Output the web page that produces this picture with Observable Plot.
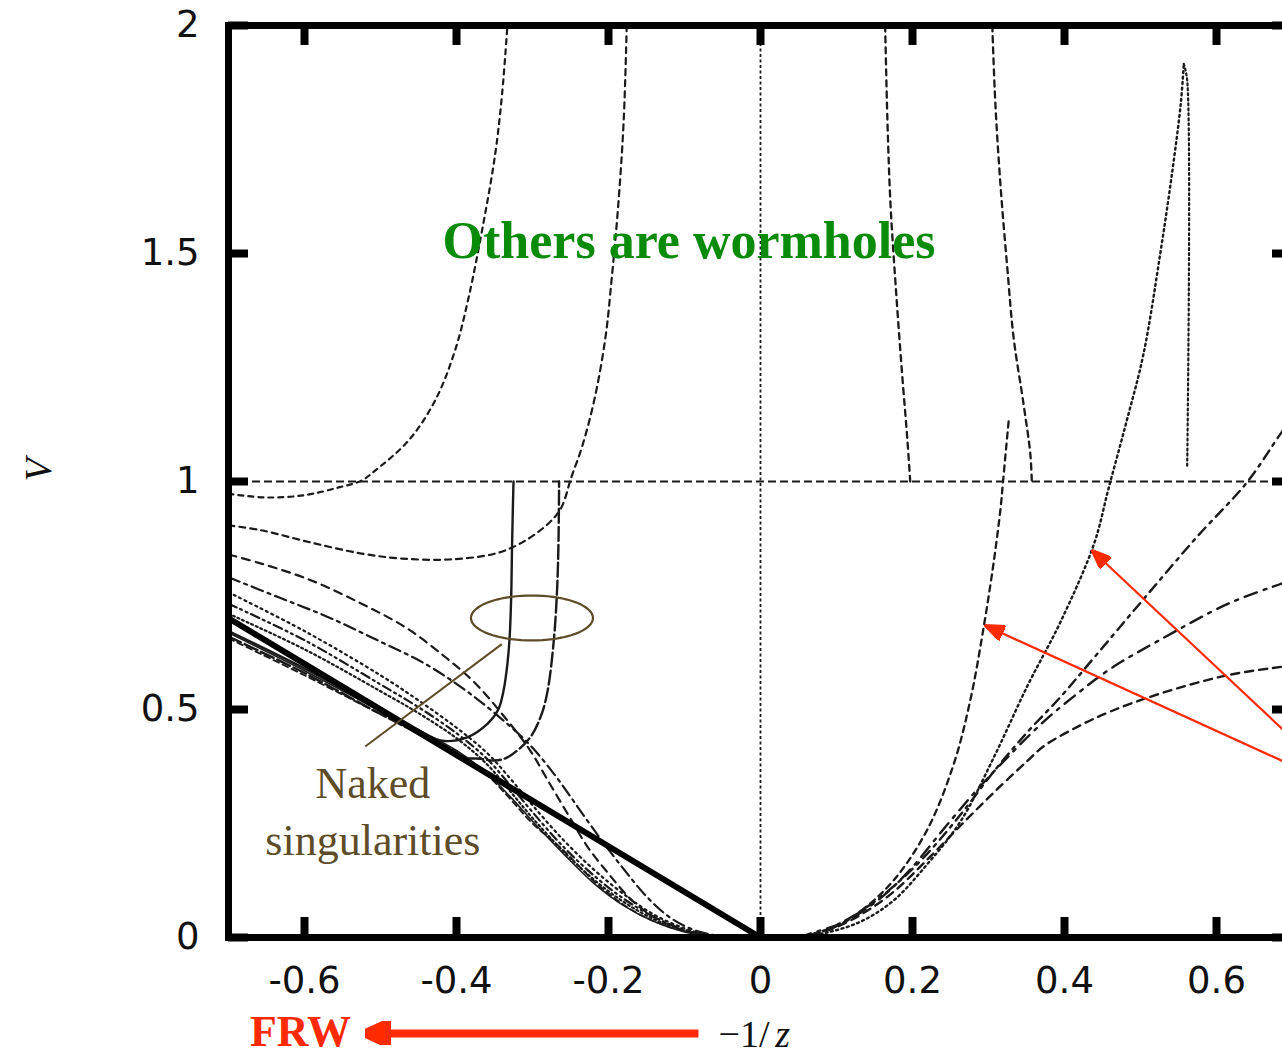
<!DOCTYPE html>
<html>
<head>
<meta charset="utf-8">
<script src="https://cdn.jsdelivr.net/npm/d3@7"></script>
<script src="https://cdn.jsdelivr.net/npm/@observablehq/plot@0.6"></script>
<style>
html, body { margin: 0; padding: 0; background: #fff; overflow: hidden; width: 1282px; height: 1057px; }
#chart svg { display: block; max-width: none !important; width: 1310px !important; height: 1057px !important; }
</style>
</head>
<body>
<div id="chart"></div>
<script>
// ---------- data (x = -1/z, y = V) ----------
const xTicks = [-0.6, -0.4, -0.2, 0, 0.2, 0.4, 0.6];
const yTicks = [0, 0.5, 1, 1.5, 2];

const frwLine = [[-0.7, 0.7], [0, 0]];

// wormhole curves, left
const wormLeft1 = [[-0.7,0.973],[-0.65,0.965],[-0.6,0.970],[-0.555,0.987],[-0.525,1.002],[-0.507,1.024],[-0.463,1.09],[-0.428,1.178],[-0.402,1.287],[-0.384,1.404],[-0.364,1.572],[-0.349,1.719],[-0.340,1.85],[-0.333,2.0]];
const wormLeft2 = [[-0.7,0.904],[-0.657,0.893],[-0.591,0.866],[-0.525,0.842],[-0.472,0.831],[-0.41,0.829],[-0.349,0.842],[-0.314,0.866],[-0.279,0.908],[-0.262,0.943],[-0.249,1.009],[-0.235,1.075],[-0.218,1.184],[-0.204,1.316],[-0.196,1.441],[-0.187,1.61],[-0.180,1.792],[-0.176,2.0]];

// bundle of curves on the left that fall to zero
const leftC = [[-0.7,0.84],[-0.657,0.82],[-0.591,0.783],[-0.525,0.732],[-0.467,0.68],[-0.414,0.614],[-0.375,0.557],[-0.336,0.482],[-0.303,0.41],[-0.28,0.345],[-0.254,0.272],[-0.228,0.2],[-0.2,0.14],[-0.167,0.078],[-0.135,0.04],[-0.1,0.015],[-0.07,0.004],[-0.04,0]];
const leftD = [[-0.7,0.79],[-0.634,0.746],[-0.568,0.702],[-0.503,0.651],[-0.441,0.6],[-0.393,0.548],[-0.349,0.491],[-0.305,0.425],[-0.27,0.355],[-0.24,0.285],[-0.21,0.215],[-0.18,0.15],[-0.15,0.09],[-0.12,0.045],[-0.09,0.018],[-0.06,0.005],[-0.03,0]];
const leftE = [[-0.7,0.757],[-0.6,0.672],[-0.5,0.575],[-0.45,0.52],[-0.4,0.46],[-0.36,0.405],[-0.33,0.35],[-0.3,0.29],[-0.26,0.215],[-0.22,0.15],[-0.18,0.095],[-0.14,0.05],[-0.1,0.02],[-0.07,0.006],[-0.04,0]];
const leftF = [[-0.7,0.732],[-0.6,0.652],[-0.5,0.555],[-0.45,0.505],[-0.4,0.448],[-0.36,0.392],[-0.33,0.335],[-0.3,0.275],[-0.26,0.2],[-0.22,0.137],[-0.18,0.085],[-0.14,0.045],[-0.1,0.017],[-0.07,0.005],[-0.045,0]];
const leftG = [[-0.7,0.71],[-0.6,0.632],[-0.5,0.54],[-0.45,0.492],[-0.4,0.437],[-0.36,0.38],[-0.33,0.322],[-0.3,0.262],[-0.26,0.19],[-0.22,0.128],[-0.18,0.078],[-0.14,0.04],[-0.1,0.015],[-0.07,0.004],[-0.05,0]];
const leftH = [[-0.7,0.668],[-0.6,0.585],[-0.5,0.497],[-0.45,0.455],[-0.4,0.41],[-0.36,0.36],[-0.33,0.31],[-0.3,0.255],[-0.26,0.185],[-0.22,0.12],[-0.18,0.07],[-0.14,0.035],[-0.1,0.012],[-0.07,0.003],[-0.05,0]];
const leftI = [[-0.7,0.656],[-0.6,0.575],[-0.5,0.49],[-0.45,0.45],[-0.4,0.406],[-0.36,0.357],[-0.33,0.305],[-0.3,0.25],[-0.263,0.197],[-0.21,0.11],[-0.162,0.053],[-0.114,0.02],[-0.075,0.006],[-0.05,0]];

// naked singularity curves
const nakedSolid = [[-0.7,0.672],[-0.6,0.59],[-0.5,0.5],[-0.45,0.455],[-0.421,0.432],[-0.386,0.439],[-0.359,0.469],[-0.345,0.5],[-0.338,0.542],[-0.333,0.6],[-0.330,0.66],[-0.328,0.75],[-0.327,0.85],[-0.326,0.93],[-0.325,1.0]];
const nakedDashed = [[-0.7,0.66],[-0.6,0.58],[-0.5,0.49],[-0.43,0.43],[-0.39,0.395],[-0.368,0.392],[-0.351,0.388],[-0.333,0.395],[-0.303,0.439],[-0.288,0.49],[-0.28,0.542],[-0.272,0.651],[-0.268,0.75],[-0.266,0.85],[-0.265,1.0]];

// right side curves
const rightA = [[0.04,0],[0.07,0.008],[0.1,0.025],[0.132,0.058],[0.175,0.125],[0.219,0.235],[0.254,0.379],[0.276,0.52],[0.294,0.684],[0.307,0.825],[0.316,0.943],[0.319,0.998],[0.323,1.07],[0.327,1.141]];
const rightB = [[0.05,0],[0.088,0.011],[0.132,0.035],[0.175,0.081],[0.219,0.16],[0.263,0.254],[0.307,0.395],[0.351,0.551],[0.395,0.693],[0.439,0.864],[0.458,0.985],[0.482,1.134],[0.504,1.28],[0.526,1.5],[0.542,1.682],[0.553,1.829],[0.557,1.916]];
const rightBdrop = [[0.557,1.916],[0.5614,1.88],[0.5614,1.03]];
const rightC = [[0.05,0],[0.088,0.018],[0.132,0.058],[0.175,0.112],[0.219,0.183],[0.263,0.269],[0.307,0.364],[0.351,0.45],[0.395,0.528],[0.439,0.614],[0.504,0.742],[0.574,0.878],[0.64,0.998],[0.684,1.104],[0.7,1.14]];
const rightD = [[0.05,0],[0.066,0.009],[0.11,0.034],[0.154,0.081],[0.197,0.149],[0.241,0.238],[0.285,0.324],[0.329,0.402],[0.373,0.474],[0.417,0.535],[0.461,0.59],[0.526,0.653],[0.614,0.731],[0.687,0.777],[0.7,0.785]];
const rightE = [[0.05,0],[0.088,0.015],[0.132,0.05],[0.175,0.1],[0.219,0.17],[0.263,0.245],[0.307,0.318],[0.351,0.387],[0.373,0.42],[0.417,0.462],[0.461,0.496],[0.526,0.535],[0.614,0.575],[0.687,0.594],[0.7,0.597]];
const wormRight1 = [[0.164,2.0],[0.167,1.792],[0.171,1.61],[0.178,1.426],[0.186,1.243],[0.193,1.097],[0.197,1.0]];
const wormRight2 = [[0.305,2.0],[0.309,1.829],[0.316,1.645],[0.325,1.463],[0.333,1.316],[0.346,1.171],[0.355,1.061],[0.357,1.0]];

// annotations (data coordinates)
const othersLabel = [{x: -0.094, y: 1.491, text: "Others are wormholes"}];
const nakedLabel = [{x: -0.51, y: 0.307, text: "Naked"}, {x: -0.51, y: 0.18, text: "singularities"}];
const nakedEllipse = {cx: -0.3007, cy: 0.7007, rx: 0.0803, ry: 0.0493};
const nakedPointer = [{x1: -0.3404, y1: 0.6434, x2: -0.5201, y2: 0.4189}];
const redPointers = [{x1: 0.75, y1: 0.358, x2: 0.4364, y2: 0.8487}, {x1: 0.75, y1: 0.339, x2: 0.296, y2: 0.684}];
const frwArrow = [{x1: -0.0816, y1: -0.2105, x2: -0.5197, y2: -0.2105}];
const frwLabel = [{x: -0.6053, y: -0.2390, text: "FRW"}];
const xLabelParts = [{x: -0.0553, y: -0.2410, text: "\u22121/"}];
const xLabelZ = [{x: 0.0195, y: -0.2410, text: "z"}];

// ---------- styles ----------
const ink = "#1a1a1a";
const curveStyles = [
  [wormLeft1, "5,5", 2.2],
  [wormLeft2, "6,5", 2.2],
  [leftC, "8,6", 2.2],
  [leftD, "12,5,3,5", 2.2],
  [leftE, "2,4", 2.2],
  [leftF, "9,4,2,4,2,4", 2.2],
  [leftG, "2,3", 2.2],
  [leftH, null, 1.6],
  [leftI, "6,4", 1.8],
  [nakedSolid, null, 2.4],
  [nakedDashed, "14,4", 2.4],
  [rightA, "6,5", 2.3],
  [rightB, "2,3.5", 2.4],
  [rightBdrop, "2,3", 2.2],
  [rightC, "10,6,3,6", 2.4],
  [rightD, "13,7,3,7", 2.4],
  [rightE, "8,6", 2.4],
  [wormRight1, "6,5", 2.3],
  [wormRight2, "6,5", 2.3]
];

function filledHead(len, half) {
  return (color) => {
    const ns = "http://www.w3.org/2000/svg";
    const m = document.createElementNS(ns, "marker");
    m.setAttribute("viewBox", `0 ${-half} ${len} ${2 * half}`);
    m.setAttribute("markerUnits", "userSpaceOnUse");
    m.setAttribute("markerWidth", len);
    m.setAttribute("markerHeight", 2 * half);
    m.setAttribute("refX", len - 1);
    m.setAttribute("refY", 0);
    m.setAttribute("orient", "auto");
    const p = document.createElementNS(ns, "path");
    p.setAttribute("d", `M0,${-half}L${len},0L0,${half}Z`);
    p.setAttribute("fill", color);
    m.appendChild(p);
    return m;
  };
}

const t = d3.range(0, 361, 5).map(a => a * Math.PI / 180);
const ellipsePts = t.map(a => [nakedEllipse.cx + nakedEllipse.rx * Math.cos(a), nakedEllipse.cy + nakedEllipse.ry * Math.sin(a)]);

const brown = "#5e4b27";
const red = "#ff2a00";
const green = "#0a8c0a";
const tickFont = "DejaVu Sans, Liberation Sans, Arial, sans-serif";

const plot = Plot.plot({
  width: 1310,
  height: 1057,
  marginLeft: 228,
  marginRight: 18,
  marginTop: 25,
  marginBottom: 120,
  style: {background: "#fff", overflow: "visible", maxWidth: "none"},
  x: {domain: [-0.7, 0.7]},
  y: {domain: [0, 2]},
  marks: [
    Plot.ruleY([1], {stroke: ink, strokeWidth: 1.8, strokeDasharray: "8,4"}),
    Plot.ruleX([0], {y1: 0, y2: 2, stroke: ink, strokeWidth: 1.8, strokeDasharray: "3,2.5"}),
    ...curveStyles.map(([data, dash, w]) => Plot.line(data, {
      x: d => d[0], y: d => d[1], stroke: ink, strokeWidth: w,
      strokeDasharray: dash || undefined, curve: "catmull-rom"
    })),
    Plot.line(frwLine, {x: d => d[0], y: d => d[1], stroke: "#000", strokeWidth: 6}),
    Plot.frame({stroke: "#000", strokeWidth: 7}),
    // inward ticks
    Plot.ruleX(xTicks, {x: d => d, y1: 0, y2: 20 / 456, stroke: "#000", strokeWidth: 8}),
    Plot.ruleX(xTicks, {x: d => d, y1: 2 - 20 / 456, y2: 2, stroke: "#000", strokeWidth: 8}),
    Plot.ruleY(yTicks, {y: d => d, x1: -0.7, x2: -0.7 + 20 / 760, stroke: "#000", strokeWidth: 8}),
    Plot.ruleY(yTicks, {y: d => d, x1: 0.7 - 20 / 760, x2: 0.7, stroke: "#000", strokeWidth: 8}),
    Plot.axisX({ticks: xTicks, tickSize: 0, tickPadding: 29, tickFormat: d => String(d), fontSize: 37, fontFamily: tickFont, fill: "#111", label: null}),
    Plot.axisY({ticks: yTicks, tickSize: 0, tickPadding: 29, tickFormat: d => String(d), fontSize: 37, fontFamily: tickFont, fill: "#111", label: null}),
    Plot.text(["V"], {frameAnchor: "left", dx: -190, rotate: -90, fontSize: 38, fontStyle: "italic", fontFamily: "Liberation Serif, serif", fill: "#111"}),
    // annotations
    Plot.text(othersLabel, {x: "x", y: "y", text: "text", lineAnchor: "bottom", fontSize: 52, fontWeight: "bold", fontFamily: "Liberation Serif, serif", fill: green}),
    Plot.line(ellipsePts, {x: d => d[0], y: d => d[1], stroke: brown, strokeWidth: 2.2}),
    Plot.link(nakedPointer, {x1: "x1", y1: "y1", x2: "x2", y2: "y2", stroke: brown, strokeWidth: 2}),
    Plot.text(nakedLabel, {x: "x", y: "y", text: "text", lineAnchor: "bottom", fontSize: 44, fontFamily: "Liberation Serif, serif", fill: brown}),
    Plot.link(redPointers, {x1: "x1", y1: "y1", x2: "x2", y2: "y2", stroke: red, strokeWidth: 2.2, markerEnd: filledHead(20, 8)}),
    Plot.link(frwArrow, {x1: "x1", y1: "y1", x2: "x2", y2: "y2", stroke: red, strokeWidth: 8, markerEnd: filledHead(26, 12)}),
    Plot.text(frwLabel, {x: "x", y: "y", text: "text", lineAnchor: "bottom", fontSize: 44, fontWeight: "bold", fontFamily: "Liberation Serif, serif", fill: red}),
    Plot.text(xLabelParts, {x: "x", y: "y", text: "text", lineAnchor: "bottom", textAnchor: "start", fontSize: 38, fontFamily: "Liberation Serif, serif", fill: "#111"}),
    Plot.text(xLabelZ, {x: "x", y: "y", text: "text", lineAnchor: "bottom", textAnchor: "start", fontSize: 38, fontStyle: "italic", fontFamily: "Liberation Serif, serif", fill: "#111"})
  ]
});
document.getElementById("chart").appendChild(plot);
</script>
</body>
</html>
